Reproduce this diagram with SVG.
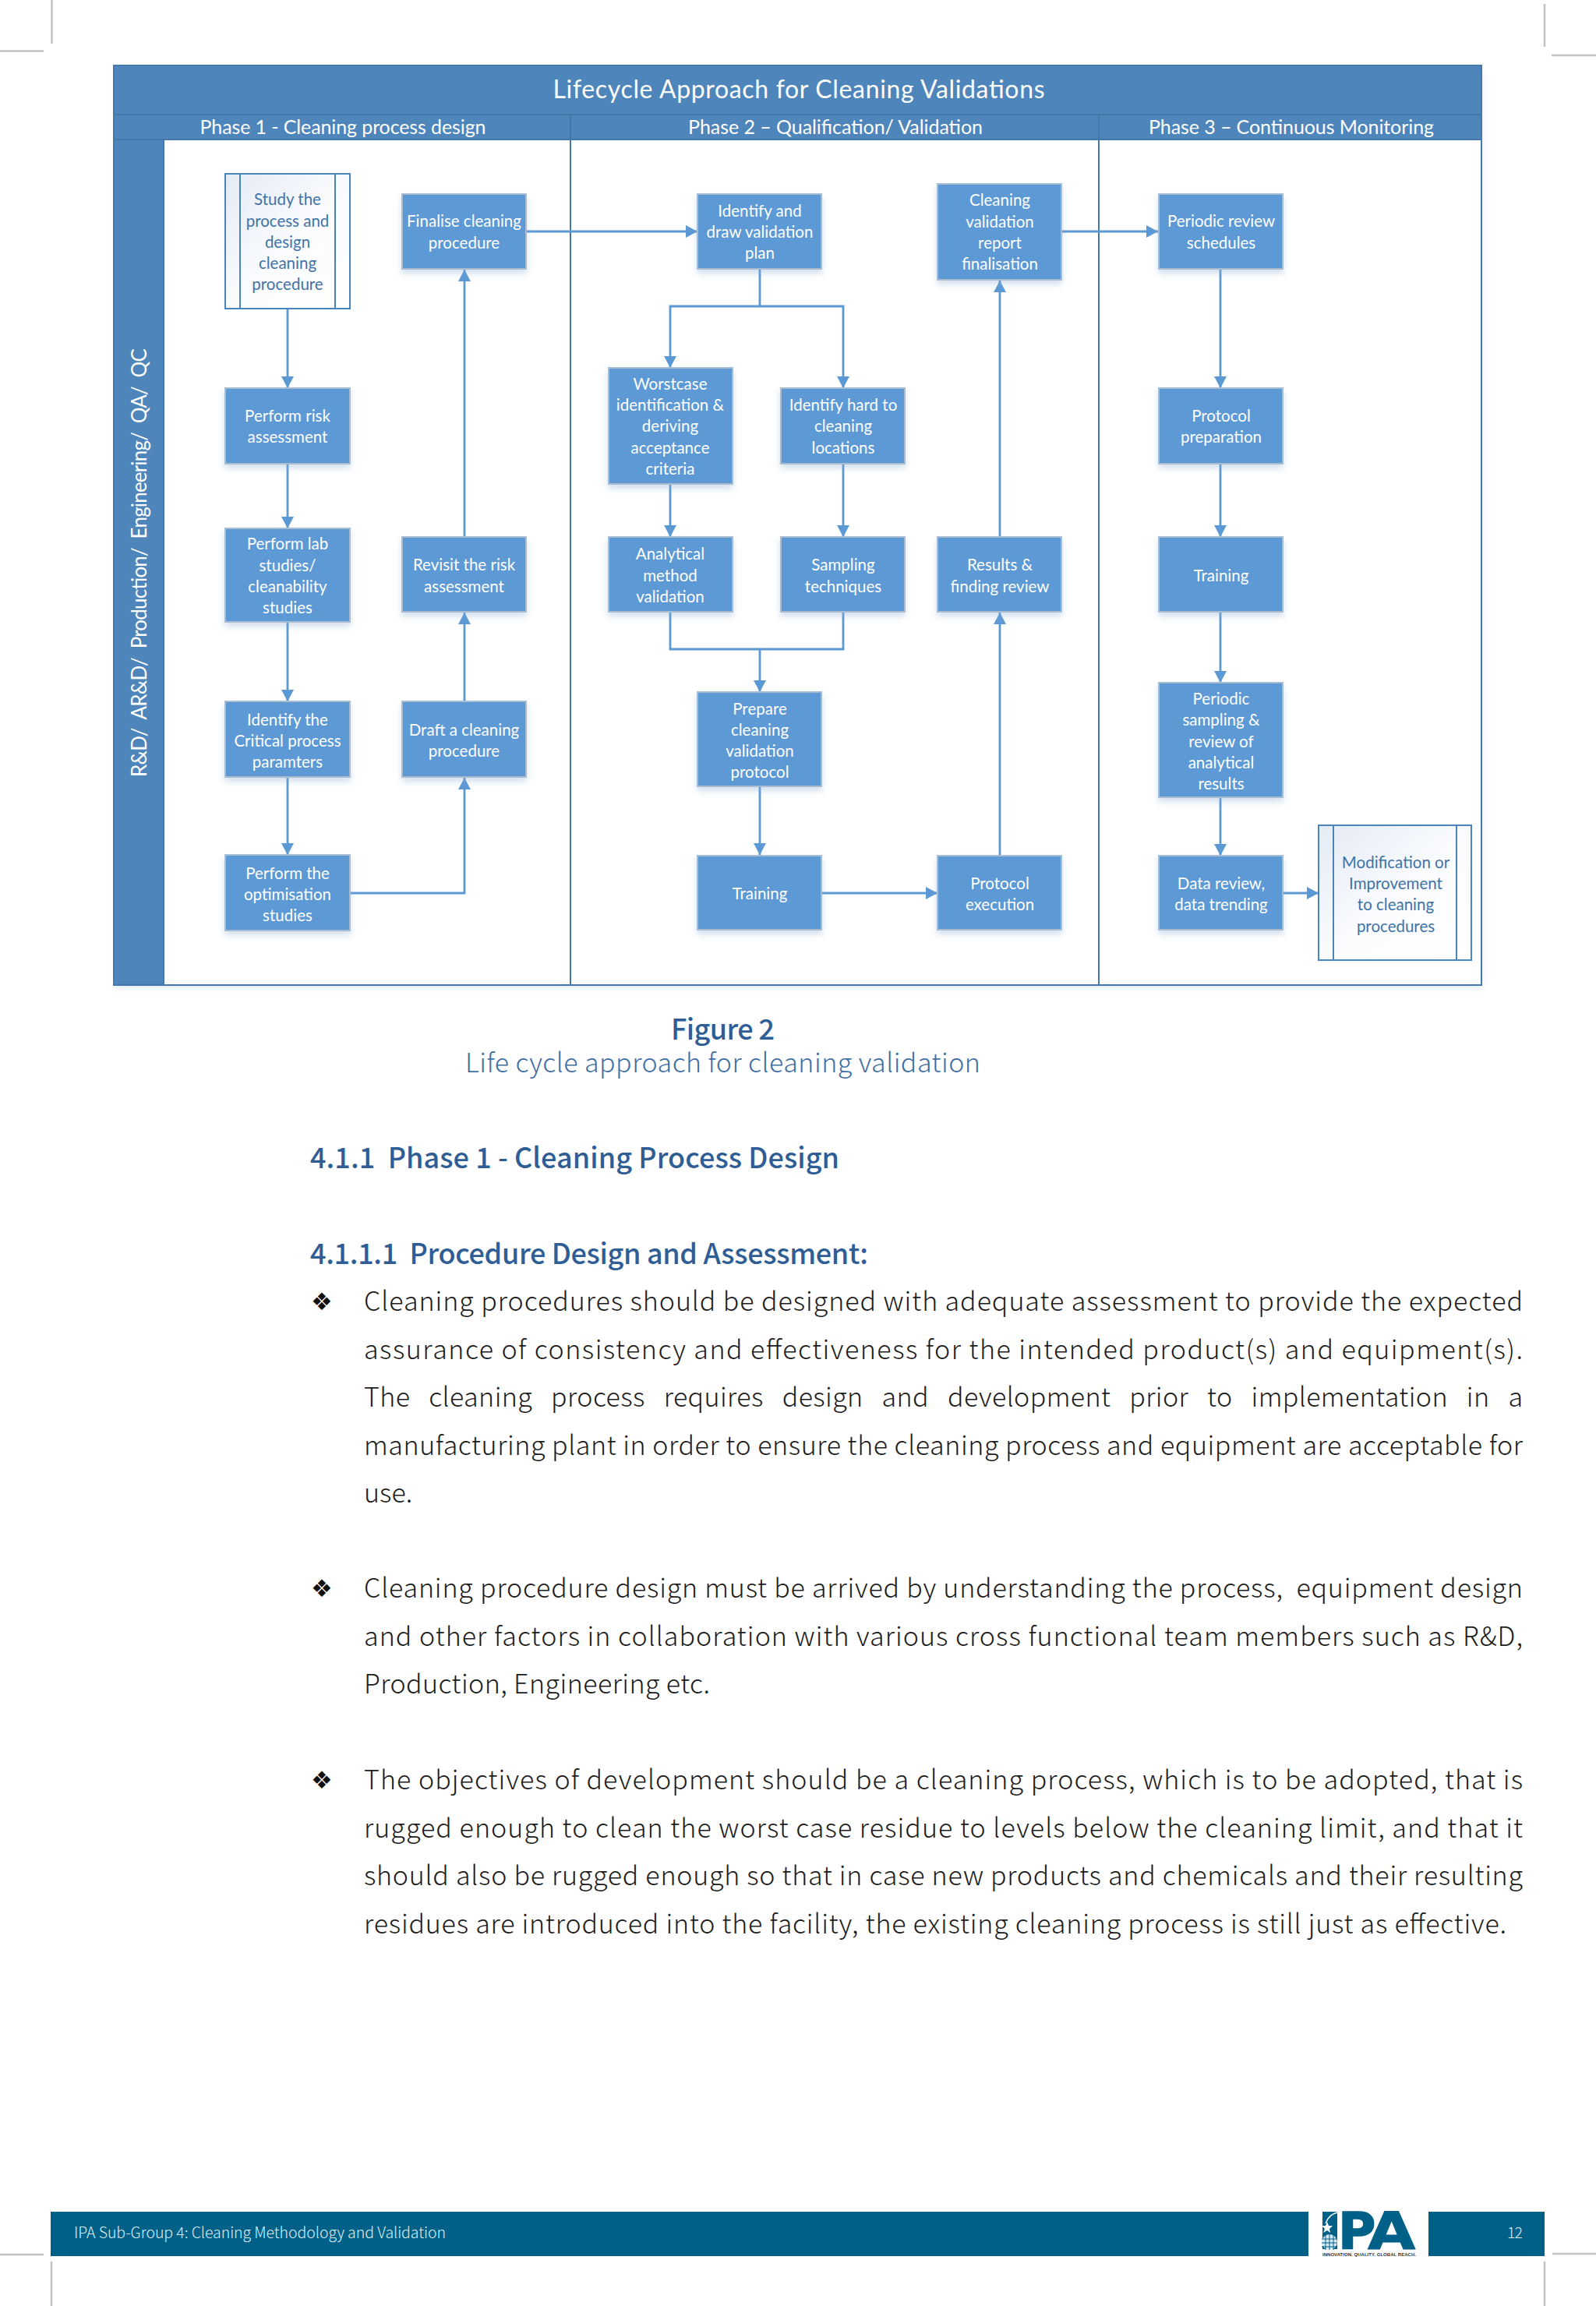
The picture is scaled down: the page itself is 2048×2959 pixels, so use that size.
<svg xmlns="http://www.w3.org/2000/svg" width="2048" height="2959" viewBox="0 0 2048 2959">
<style>
text{font-family:"Lato","Carlito","Liberation Sans",sans-serif}
.n{fill:#5b99d5;stroke:#a9bdd2;stroke-width:2;filter:url(#sh)}
.p{fill:url(#pg);stroke:#4a84bd;stroke-width:2}
.pl{stroke:#4a84bd;stroke-width:2;fill:none}
.t{fill:#fff;font-size:20.5px;text-anchor:middle}
.tp{fill:#3f73a8;font-size:20.5px;text-anchor:middle}
.h{fill:#fff;text-anchor:middle}
.c{fill:none;stroke:#5b99d5;stroke-width:2.8}
.a{marker-end:url(#ar)}
.crop{stroke:#c2c2c2;stroke-width:2.5}
.b{font-family:"Noto Sans CJK JP","Noto Sans",sans-serif;font-size:34px;font-weight:300;fill:#1c1c1c;white-space:pre}
.hd{font-family:"Noto Sans CJK JP","Noto Sans",sans-serif;font-size:36px;font-weight:500;fill:#2f5d95;white-space:pre}
.bul{font-family:"DejaVu Sans",sans-serif;font-size:31px;fill:#111}
.f{font-family:"Noto Sans CJK JP","Noto Sans",sans-serif;font-weight:300;fill:#dceef5;font-size:19.5px}
</style>
<defs>
<marker id="ar" markerUnits="userSpaceOnUse" markerWidth="18" markerHeight="18" refX="15" refY="9" orient="auto"><path d="M0 1L15 9L0 17Z" fill="#5b99d5"/></marker>
<linearGradient id="pg" x1="0" y1="0" x2="1" y2="1"><stop offset="0" stop-color="#e4ebf5"/><stop offset=".55" stop-color="#fbfcfe"/><stop offset="1" stop-color="#fff"/></linearGradient>
<filter id="sh" x="-15%" y="-15%" width="130%" height="135%"><feDropShadow dx="0" dy="5" stdDeviation="4" flood-color="#7fa6cf" flood-opacity=".35"/></filter>
<filter id="sh2" x="-2%" y="-2%" width="104%" height="104%"><feDropShadow dx="2" dy="5" stdDeviation="4" flood-color="#9dbcdc" flood-opacity=".25"/></filter>
</defs>
<rect width="2048" height="2959" fill="#fff"/>
<g id="crop-marks">
<line class="crop" x1="66.5" y1="0" x2="66.5" y2="56"/><line class="crop" x1="0" y1="65.5" x2="56" y2="65.5"/>
<line class="crop" x1="1982" y1="5" x2="1982" y2="60"/><line class="crop" x1="1991" y1="71" x2="2048" y2="71"/>
<line class="crop" x1="0" y1="2893" x2="56" y2="2893"/><line class="crop" x1="66" y1="2902" x2="66" y2="2959"/>
<line class="crop" x1="1992" y1="2892" x2="2048" y2="2892"/><line class="crop" x1="1982" y1="2902" x2="1982" y2="2959"/>
</g>
<g id="swimlane">
<rect x="146" y="84" width="1755" height="1180" fill="#fff" filter="url(#sh2)"/>
<rect x="146" y="84" width="1755" height="95" fill="#4e85ba"/>
<rect x="146" y="179" width="64" height="1085" fill="#4e85ba"/>
<path d="M146 147H1901M146 179H1901M732 147V1264M1410 147V1264M210 179V1264" fill="none" stroke="#4478aa" stroke-width="2"/>
<rect x="146" y="84" width="1755" height="1180" fill="none" stroke="#4478aa" stroke-width="2"/>
<text class="h" x="1025" y="126" font-size="32" textLength="631" lengthAdjust="spacing">Lifecycle Approach for Cleaning Validations</text>
<text class="h" x="440" y="172" font-size="25" textLength="367" lengthAdjust="spacing">Phase 1 - Cleaning process design</text>
<text class="h" x="1072" y="172" font-size="25" textLength="378" lengthAdjust="spacing">Phase 2 – Qualification/ Validation</text>
<text class="h" x="1657" y="172" font-size="25" textLength="366" lengthAdjust="spacing">Phase 3 – Continuous Monitoring</text>
<text class="h" transform="translate(188 722) rotate(-90)" font-size="26" textLength="550" lengthAdjust="spacing" style="white-space:pre">R&amp;D/  AR&amp;D/  Production/  Engineering/  QA/  QC</text>
</g>
<g id="connectors">
<path class="c a" d="M369 396V498"/>
<path class="c a" d="M369 595V678"/>
<path class="c a" d="M369 798V900"/>
<path class="c a" d="M369 997V1097"/>
<path class="c a" d="M449 1146H596V998"/>
<path class="c a" d="M596 900V786"/>
<path class="c a" d="M596 689V346"/>
<path class="c a" d="M675 297H895"/>
<path class="c a" d="M975 345V393H860V472"/>
<path class="c a" d="M975 393H1082V498"/>
<path class="c a" d="M860 621V689"/>
<path class="c a" d="M1082 595V689"/>
<path class="c a" d="M860 785V833H975V888"/>
<path class="c" d="M1082 785V833H975"/>
<path class="c a" d="M975 1009V1097"/>
<path class="c a" d="M1054 1146H1203"/>
<path class="c a" d="M1283 1098V786"/>
<path class="c a" d="M1283 689V360"/>
<path class="c a" d="M1362 297H1486"/>
<path class="c a" d="M1566 345V498"/>
<path class="c a" d="M1566 595V689"/>
<path class="c a" d="M1566 785V876"/>
<path class="c a" d="M1566 1023V1098"/>
<path class="c a" d="M1646 1146H1692"/>
</g>
<g id="n-study"><rect class="p" x="289" y="223" width="160" height="173"/><path class="pl" d="M308 223V396M430 223V396"/><text class="tp" x="369"><tspan x="369" y="263">Study the</tspan><tspan x="369" y="290.5">process and</tspan><tspan x="369" y="318">design</tspan><tspan x="369" y="345">cleaning</tspan><tspan x="369" y="372">procedure</tspan></text></g>
<g id="n-risk"><rect class="n" x="289" y="498" width="160" height="97"/><text class="t"><tspan x="369" y="540.5">Perform risk</tspan><tspan x="369" y="567.5">assessment</tspan></text></g>
<g id="n-lab"><rect class="n" x="289" y="678" width="160" height="120"/><text class="t"><tspan x="369" y="705">Perform lab</tspan><tspan x="369" y="732.5">studies/</tspan><tspan x="369" y="760">cleanability</tspan><tspan x="369" y="787">studies</tspan></text></g>
<g id="n-critical"><rect class="n" x="289" y="900" width="160" height="97"/><text class="t"><tspan x="369" y="930.5">Identify the</tspan><tspan x="369" y="957.5">Critical process</tspan><tspan x="369" y="985">paramters</tspan></text></g>
<g id="n-optim"><rect class="n" x="289" y="1097" width="160" height="97"/><text class="t"><tspan x="369" y="1127.5">Perform the</tspan><tspan x="369" y="1154.5">optimisation</tspan><tspan x="369" y="1182">studies</tspan></text></g>
<g id="n-finalise"><rect class="n" x="516" y="249" width="159" height="96"/><text class="t"><tspan x="595.5" y="290.5">Finalise cleaning</tspan><tspan x="595.5" y="318.5">procedure</tspan></text></g>
<g id="n-revisit"><rect class="n" x="516" y="689" width="159" height="96"/><text class="t"><tspan x="595.5" y="732">Revisit the risk</tspan><tspan x="595.5" y="760">assessment</tspan></text></g>
<g id="n-draft"><rect class="n" x="516" y="900" width="159" height="97"/><text class="t"><tspan x="595.5" y="944">Draft a cleaning</tspan><tspan x="595.5" y="971">procedure</tspan></text></g>
<g id="n-plan"><rect class="n" x="895" y="249" width="159" height="96"/><text class="t"><tspan x="975" y="277.5">Identify and</tspan><tspan x="975" y="304.5">draw validation</tspan><tspan x="975" y="331.5">plan</tspan></text></g>
<g id="n-worst"><rect class="n" x="781" y="472" width="159" height="149"/><text class="t"><tspan x="860" y="499.5">Worstcase</tspan><tspan x="860" y="527">identification &amp;</tspan><tspan x="860" y="554">deriving</tspan><tspan x="860" y="581.5">acceptance</tspan><tspan x="860" y="608.5">criteria</tspan></text></g>
<g id="n-hard"><rect class="n" x="1002" y="498" width="159" height="97"/><text class="t"><tspan x="1082" y="527">Identify hard to</tspan><tspan x="1082" y="554">cleaning</tspan><tspan x="1082" y="581.5">locations</tspan></text></g>
<g id="n-analytical"><rect class="n" x="781" y="689" width="159" height="96"/><text class="t"><tspan x="860" y="718">Analytical</tspan><tspan x="860" y="746">method</tspan><tspan x="860" y="773">validation</tspan></text></g>
<g id="n-sampling"><rect class="n" x="1002" y="689" width="159" height="96"/><text class="t"><tspan x="1082" y="732">Sampling</tspan><tspan x="1082" y="760">techniques</tspan></text></g>
<g id="n-prepare"><rect class="n" x="895" y="888" width="159" height="121"/><text class="t"><tspan x="975" y="917">Prepare</tspan><tspan x="975" y="944">cleaning</tspan><tspan x="975" y="971">validation</tspan><tspan x="975" y="998">protocol</tspan></text></g>
<g id="n-training2"><rect class="n" x="895" y="1098" width="159" height="95"/><text class="t" x="975" y="1154">Training</text></g>
<g id="n-report"><rect class="n" x="1203" y="236" width="159" height="123"/><text class="t"><tspan x="1283" y="264">Cleaning</tspan><tspan x="1283" y="291.5">validation</tspan><tspan x="1283" y="318.5">report</tspan><tspan x="1283" y="345.5">finalisation</tspan></text></g>
<g id="n-results"><rect class="n" x="1203" y="689" width="159" height="96"/><text class="t"><tspan x="1283" y="732">Results &amp;</tspan><tspan x="1283" y="760">finding review</tspan></text></g>
<g id="n-execution"><rect class="n" x="1203" y="1098" width="159" height="95"/><text class="t"><tspan x="1283" y="1141">Protocol</tspan><tspan x="1283" y="1168">execution</tspan></text></g>
<g id="n-schedules"><rect class="n" x="1487" y="249" width="159" height="96"/><text class="t"><tspan x="1567" y="290.5">Periodic review</tspan><tspan x="1567" y="318.5">schedules</tspan></text></g>
<g id="n-protprep"><rect class="n" x="1487" y="498" width="159" height="97"/><text class="t"><tspan x="1567" y="540.5">Protocol</tspan><tspan x="1567" y="567.5">preparation</tspan></text></g>
<g id="n-training3"><rect class="n" x="1487" y="689" width="159" height="96"/><text class="t" x="1567" y="746">Training</text></g>
<g id="n-periodic"><rect class="n" x="1487" y="876" width="159" height="147"/><text class="t"><tspan x="1567" y="904">Periodic</tspan><tspan x="1567" y="931">sampling &amp;</tspan><tspan x="1567" y="958.5">review of</tspan><tspan x="1567" y="986">analytical</tspan><tspan x="1567" y="1013">results</tspan></text></g>
<g id="n-data"><rect class="n" x="1487" y="1098" width="159" height="95"/><text class="t"><tspan x="1567" y="1141">Data review,</tspan><tspan x="1567" y="1168">data trending</tspan></text></g>
<g id="n-modif"><rect class="p" x="1692" y="1059" width="196" height="173"/><path class="pl" d="M1711 1059V1232M1869 1059V1232"/><text class="tp"><tspan x="1791" y="1113.5">Modification or</tspan><tspan x="1791" y="1140.5">Improvement</tspan><tspan x="1791" y="1167.5">to cleaning</tspan><tspan x="1791" y="1195.5">procedures</tspan></text></g>
<g id="caption">
<text class="hd" x="927.5" y="1334" text-anchor="middle" textLength="133" lengthAdjust="spacing">Figure 2</text>
<text class="hd" x="597" y="1376" style="font-weight:300;fill:#3f6fa3;font-size:34px" textLength="661" lengthAdjust="spacing">Life cycle approach for cleaning validation</text>
<text class="hd" x="398" y="1498.5" textLength="679" lengthAdjust="spacing">4.1.1  Phase 1 - Cleaning Process Design</text>
<text class="hd" x="398" y="1621.5" textLength="716" lengthAdjust="spacing">4.1.1.1  Procedure Design and Assessment:</text>
</g>
<g id="body">
<text class="bul" x="399" y="1681">❖</text>
<text class="b" x="467" y="1682" textLength="1487" lengthAdjust="spacing">Cleaning procedures should be designed with adequate assessment to provide the expected</text>
<text class="b" x="467" y="1743.5" textLength="1487" lengthAdjust="spacing">assurance of consistency and effectiveness for the intended product(s) and equipment(s).</text>
<text class="b" x="467" y="1805" textLength="1487" lengthAdjust="spacing" word-spacing="16">The cleaning process requires design and development prior to implementation in a</text>
<text class="b" x="467" y="1866.5" textLength="1487" lengthAdjust="spacing">manufacturing plant in order to ensure the cleaning process and equipment are acceptable for</text>
<text class="b" x="467" y="1928">use.</text>
<text class="bul" x="399" y="2049">❖</text>
<text class="b" x="467" y="2050" textLength="1487" lengthAdjust="spacing">Cleaning procedure design must be arrived by understanding the process,  equipment design</text>
<text class="b" x="467" y="2111.5" textLength="1487" lengthAdjust="spacing">and other factors in collaboration with various cross functional team members such as R&amp;D,</text>
<text class="b" x="467" y="2173" textLength="444" lengthAdjust="spacing">Production, Engineering etc.</text>
<text class="bul" x="399" y="2295">❖</text>
<text class="b" x="467" y="2296" textLength="1487" lengthAdjust="spacing">The objectives of development should be a cleaning process, which is to be adopted, that is</text>
<text class="b" x="467" y="2358" textLength="1487" lengthAdjust="spacing">rugged enough to clean the worst case residue to levels below the cleaning limit, and that it</text>
<text class="b" x="467" y="2419" textLength="1487" lengthAdjust="spacing">should also be rugged enough so that in case new products and chemicals and their resulting</text>
<text class="b" x="467" y="2481" textLength="1466" lengthAdjust="spacing">residues are introduced into the facility, the existing cleaning process is still just as effective.</text>
</g>
<g id="footer">
<rect x="65" y="2838" width="1614" height="57" fill="#006088"/>
<rect x="1833" y="2838" width="149" height="57" fill="#006088"/>
<text class="f" x="95" y="2872" textLength="477" lengthAdjust="spacing">IPA Sub-Group 4: Cleaning Methodology and Validation</text>
<text class="f" x="1934" y="2872" textLength="20" lengthAdjust="spacing">12</text>
</g>
<g id="logo">
<rect x="1697" y="2838" width="19" height="48" fill="#006088"/>
<path d="M1716 2839C1708 2841 1703 2847 1701 2853" fill="none" stroke="#fff" stroke-width="1.5"/>
<path d="M1703 2851L1705 2856L1710 2856L1706 2860L1707 2865L1703 2862L1698 2865L1700 2860L1696 2856L1701 2856Z" fill="#fff"/>
<circle cx="1706" cy="2877" r="10" fill="#d6e7ef"/>
<path d="M1696 2873H1716M1696 2878H1716M1696 2883H1716M1701 2867V2887M1706 2867V2887M1711 2867V2887" stroke="#006088" stroke-width="1"/>
<text x="1717" y="2886" font-size="66" stroke="#006088" stroke-width="1.5" style="font-family:'DejaVu Sans',sans-serif;font-weight:700" fill="#006088">P</text>
<text transform="translate(1755 2886) scale(1.2 1)" x="0" y="0" font-size="66" stroke="#006088" stroke-width="1" style="font-family:'DejaVu Sans',sans-serif;font-weight:700" fill="#006088">A</text>
<text x="1697" y="2895" font-size="6" style="font-family:'Liberation Sans',sans-serif;font-weight:700" fill="#333" textLength="120" lengthAdjust="spacing">INNOVATION. QUALITY. GLOBAL REACH.</text>
</g>
</svg>
